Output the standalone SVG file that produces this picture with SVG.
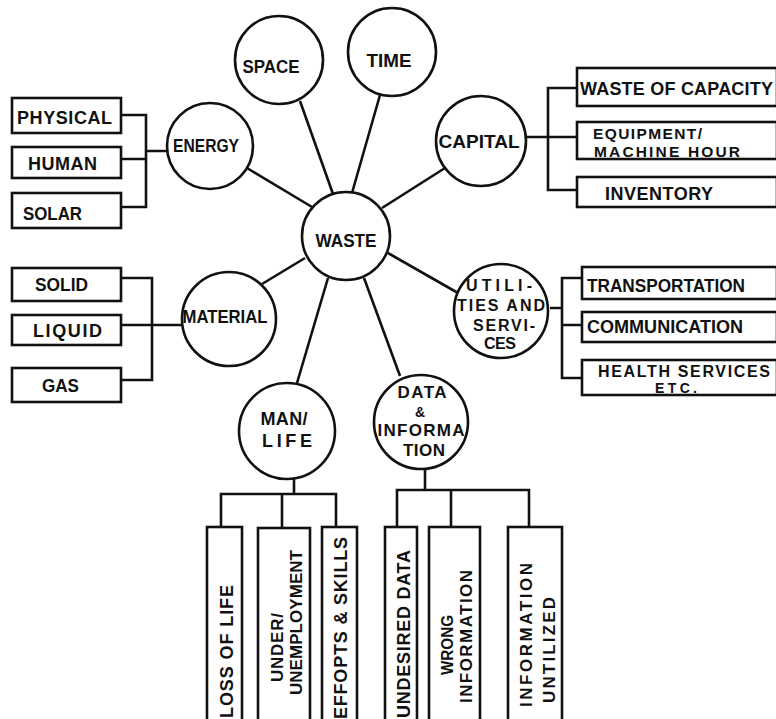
<svg xmlns="http://www.w3.org/2000/svg" width="776" height="719" viewBox="0 0 776 719">
<style>
.c{fill:#fff;stroke:#111;stroke-width:2.6}
.b{fill:#fff;stroke:#111;stroke-width:2.6}
.l{fill:none;stroke:#111;stroke-width:2.6}
text{font-family:"Liberation Sans",Arial,sans-serif;font-weight:bold;font-size:18px;fill:#111}
.m{text-anchor:middle}
</style>
<rect width="776" height="719" fill="#fff"/>
<g id="connectors" class="l">
<line x1="300" y1="101" x2="333" y2="194"/>
<line x1="380" y1="95" x2="352" y2="193"/>
<line x1="247" y1="168" x2="312" y2="207"/>
<line x1="445" y1="168" x2="382" y2="208"/>
<line x1="305" y1="258" x2="262" y2="284"/>
<line x1="328" y1="278" x2="297" y2="383"/>
<line x1="364" y1="278" x2="400" y2="376"/>
<line x1="388" y1="253" x2="458" y2="293"/>
<path d="M121 115H146V207H121M121 159H146M146 151H167"/>
<path d="M121 278H152V380H121M121 325H182"/>
<path d="M577 88H548V190H577M527 137H577"/>
<path d="M582 278H562V378H582M562 325H582M550 308H562"/>
<path d="M294 479V494M221 527V494H336V527M282 494V527"/>
<path d="M425 469V490M397 527V490H529V527M451 490V527"/>
</g>
<g id="waste"><circle class="c" cx="346" cy="236" r="44"/><text x="346" y="247" class="m" style="font-size:19px" textLength="61" lengthAdjust="spacingAndGlyphs">WASTE</text></g>
<g id="space"><circle class="c" cx="279" cy="60" r="44"/><text x="271" y="73" class="m" style="font-size:19px" textLength="57" lengthAdjust="spacingAndGlyphs">SPACE</text></g>
<g id="time"><circle class="c" cx="392" cy="52" r="44"/><text x="389" y="67" class="m" style="font-size:19px" textLength="45" lengthAdjust="spacingAndGlyphs">TIME</text></g>
<g id="energy"><circle class="c" cx="210" cy="146" r="43"/><text x="206" y="152" class="m" style="font-size:19px" textLength="66" lengthAdjust="spacingAndGlyphs">ENERGY</text></g>
<g id="capital"><circle class="c" cx="481" cy="141" r="45"/><text x="479" y="148" class="m" style="font-size:19px" textLength="81" lengthAdjust="spacingAndGlyphs">CAPITAL</text></g>
<g id="material"><circle class="c" cx="229" cy="319" r="47"/><text x="225" y="323" class="m" style="font-size:19px" textLength="85" lengthAdjust="spacingAndGlyphs">MATERIAL</text></g>
<g id="utilities"><circle class="c" cx="501" cy="311" r="47"/>
<text x="499" y="291" class="m" style="font-size:16px" textLength="66" lengthAdjust="spacing">UTILI-</text>
<text x="501" y="311" class="m" style="font-size:16px" textLength="88" lengthAdjust="spacing">TIES AND</text>
<text x="504" y="331" class="m" style="font-size:16px" textLength="62" lengthAdjust="spacing">SERVI-</text>
<text x="500" y="349" class="m" style="font-size:16px" textLength="32" lengthAdjust="spacing">CES</text></g>
<g id="manlife"><circle class="c" cx="287" cy="431" r="48"/>
<text x="284" y="425" class="m" textLength="47" lengthAdjust="spacing">MAN/</text>
<text x="287" y="447" class="m" textLength="50" lengthAdjust="spacing">LIFE</text></g>
<g id="data"><circle class="c" cx="421" cy="422" r="47"/>
<text x="422" y="398" class="m" style="font-size:17px" textLength="49" lengthAdjust="spacing">DATA</text>
<text x="420" y="417" class="m" style="font-size:14px">&amp;</text>
<text x="421" y="436" class="m" style="font-size:17px" textLength="87" lengthAdjust="spacing">INFORMA</text>
<text x="424" y="456" class="m" style="font-size:17px" textLength="42" lengthAdjust="spacing">TION</text></g>
<g id="physical"><rect class="b" x="12" y="98" width="109" height="35"/><text x="17" y="124" textLength="95" lengthAdjust="spacing">PHYSICAL</text></g>
<g id="human"><rect class="b" x="12" y="147" width="109" height="31"/><text x="28" y="170" textLength="69" lengthAdjust="spacing">HUMAN</text></g>
<g id="solar"><rect class="b" x="12" y="193" width="109" height="35"/><text x="23" y="220" textLength="59" lengthAdjust="spacingAndGlyphs">SOLAR</text></g>
<g id="solid"><rect class="b" x="12" y="268" width="109" height="33"/><text x="35" y="291" textLength="53" lengthAdjust="spacingAndGlyphs">SOLID</text></g>
<g id="liquid"><rect class="b" x="12" y="315" width="109" height="30"/><text x="33" y="337" textLength="69" lengthAdjust="spacing">LIQUID</text></g>
<g id="gas"><rect class="b" x="12" y="368" width="109" height="34"/><text x="42" y="392" textLength="37" lengthAdjust="spacingAndGlyphs">GAS</text></g>
<g id="capacity"><rect class="b" x="577" y="68" width="200" height="38"/><text x="580" y="95" textLength="193" lengthAdjust="spacing">WASTE OF CAPACITY</text></g>
<g id="equipment"><rect class="b" x="577" y="122" width="200" height="37"/>
<text x="593" y="139" style="font-size:15.5px" textLength="109" lengthAdjust="spacing">EQUIPMENT/</text>
<text x="594" y="156.5" style="font-size:15.5px" textLength="146" lengthAdjust="spacing">MACHINE HOUR</text></g>
<g id="inventory"><rect class="b" x="577" y="177" width="200" height="30"/><text x="605" y="200" textLength="108" lengthAdjust="spacing">INVENTORY</text></g>
<g id="transportation"><rect class="b" x="582" y="267" width="195" height="32"/><text x="587" y="292" textLength="158" lengthAdjust="spacingAndGlyphs">TRANSPORTATION</text></g>
<g id="communication"><rect class="b" x="582" y="312" width="195" height="30"/><text x="587" y="333" textLength="156" lengthAdjust="spacingAndGlyphs">COMMUNICATION</text></g>
<g id="health"><rect class="b" x="582" y="360" width="195" height="35"/>
<text x="598" y="376.5" style="font-size:16px" textLength="172" lengthAdjust="spacing">HEALTH SERVICES</text>
<text x="676" y="393" class="m" style="font-size:14px" textLength="42" lengthAdjust="spacing">ETC.</text></g>
<g id="lossoflife"><rect class="b" x="207" y="527" width="35" height="196"/><text transform="translate(233,718) rotate(-90)" textLength="133" lengthAdjust="spacing">LOSS OF LIFE</text></g>
<g id="unemployment"><rect class="b" x="258" y="528" width="52" height="195"/>
<text transform="translate(283,682) rotate(-90)" style="font-size:17px" textLength="69" lengthAdjust="spacing">UNDER/</text>
<text transform="translate(302,695) rotate(-90)" style="font-size:17px" textLength="145" lengthAdjust="spacing">UNEMPLOYMENT</text></g>
<g id="efforts"><rect class="b" x="322" y="527" width="35" height="196"/><text transform="translate(347,719) rotate(-90)" textLength="182" lengthAdjust="spacing">EFFOPTS &amp; SKILLS</text></g>
<g id="undesired"><rect class="b" x="385" y="527" width="32" height="196"/><text transform="translate(410,718) rotate(-90)" textLength="168" lengthAdjust="spacing">UNDESIRED DATA</text></g>
<g id="wrong"><rect class="b" x="429" y="527" width="51" height="196"/>
<text transform="translate(453,675) rotate(-90)" style="font-size:17px" textLength="60" lengthAdjust="spacingAndGlyphs">WRONG</text>
<text transform="translate(472,703) rotate(-90)" style="font-size:17px" textLength="133" lengthAdjust="spacing">INFORMATION</text></g>
<g id="untilized"><rect class="b" x="508" y="527" width="54" height="196"/>
<text transform="translate(532,707) rotate(-90)" style="font-size:17px" textLength="144" lengthAdjust="spacing">INFORMATION</text>
<text transform="translate(555,703) rotate(-90)" style="font-size:17px" textLength="106" lengthAdjust="spacing">UNTILIZED</text></g>
</svg>
